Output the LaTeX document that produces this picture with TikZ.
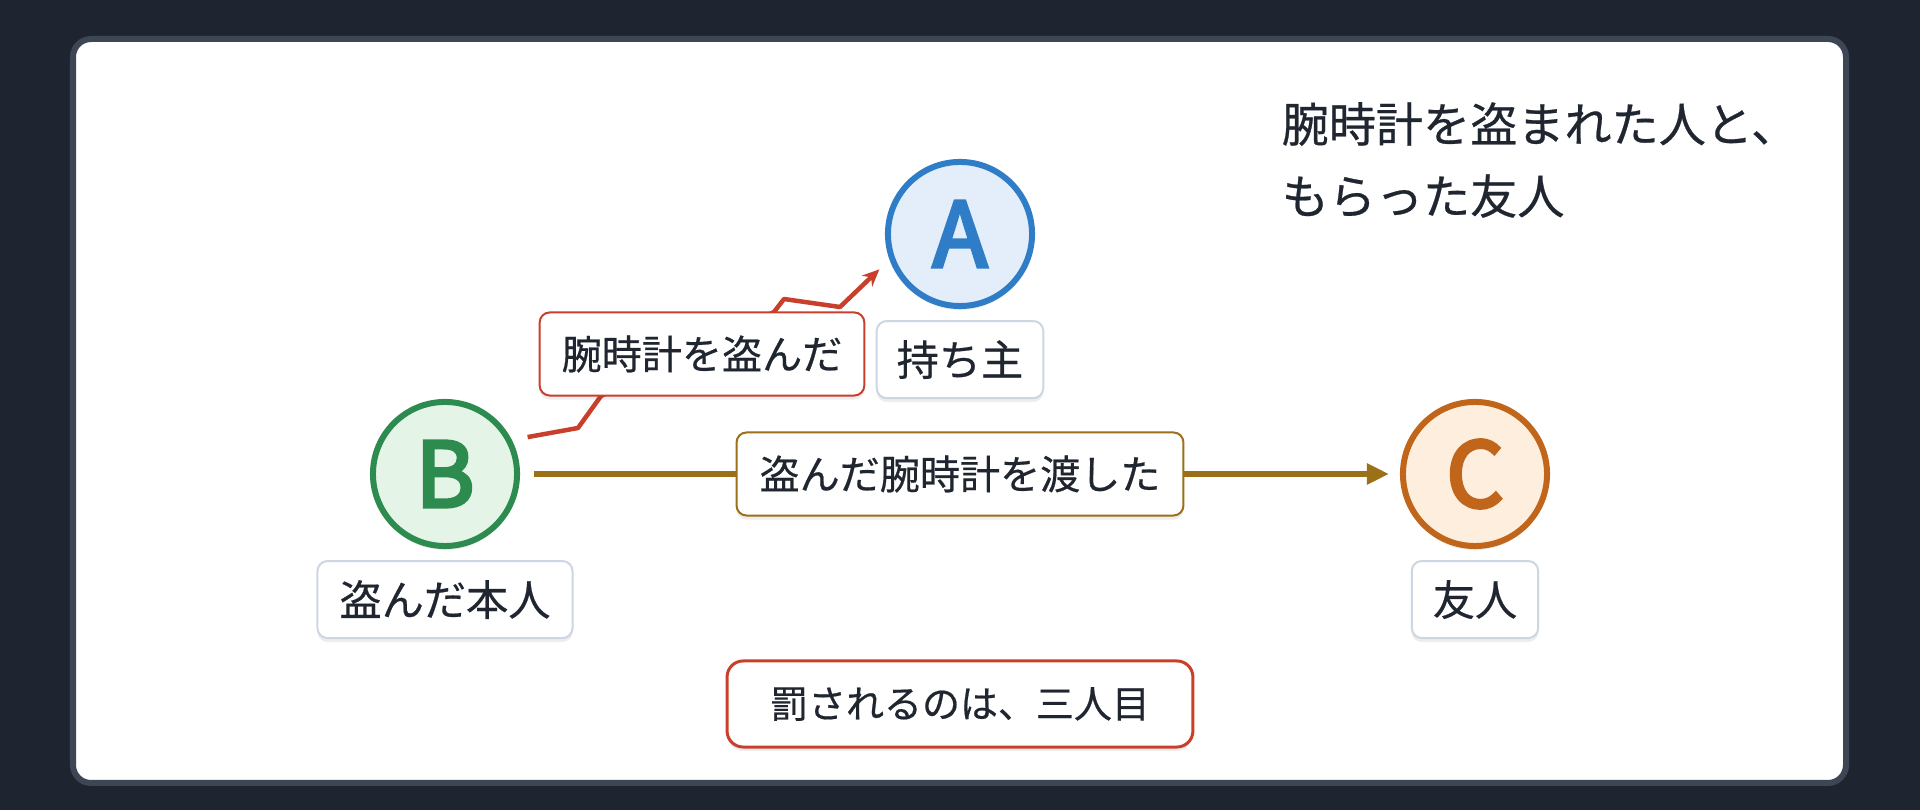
\documentclass[tikz,border=0pt]{standalone}
\usepackage{fontspec}
\setmainfont{Noto Sans CJK JP}[FakeBold=0.5]
\newfontfamily\letterfont{Noto Sans CJK JP}[FakeBold=4]
\usepackage{xcolor}
\usepackage{tikz}
\usetikzlibrary{positioning, arrows.meta, shadows}
\definecolor{pageDark}{RGB}{30, 37, 48}
\definecolor{cardEdge}{RGB}{61, 70, 85}
\definecolor{textDark}{RGB}{31, 38, 48}
\definecolor{ownerBlue}{RGB}{47, 125, 198}
\definecolor{ownerFill}{RGB}{228, 238, 250}
\definecolor{thiefGreen}{RGB}{46, 139, 79}
\definecolor{thiefFill}{RGB}{228, 245, 232}
\definecolor{friendOrange}{RGB}{192, 101, 26}
\definecolor{friendFill}{RGB}{253, 238, 222}
\definecolor{stealRed}{RGB}{200, 64, 44}
\definecolor{giveBrown}{RGB}{156, 112, 24}
\definecolor{boxGray}{RGB}{205, 214, 226}
\tikzset{
    softshadow/.style={
        drop shadow={shadow xshift=0cm, shadow yshift=-0.04cm, opacity=0.07, fill=black}
    },
    personnode/.style={
        circle, draw, line width=0.06cm, minimum size=1.44cm, inner sep=0pt,
        font=\letterfont\fontsize{25.5}{26}\selectfont, softshadow
    },
    rolenode/.style={
        draw=boxGray, line width=0.02cm, fill=white, rounded corners=0.1cm,
        inner xsep=0.2cm, inner ysep=0pt, minimum height=0.77cm,
        text=textDark, font=\fontsize{12}{14}\selectfont, softshadow
    },
    actlabel/.style={
        rolenode, minimum height=0.83cm, inner xsep=0.22cm,
        font=\fontsize{11.4}{13}\selectfont
    },
    stealptr/.style={
        -{Stealth[length=0.17cm, width=0.15cm]}, line width=0.045cm, stealRed, line join=round
    },
    giveptr/.style={
        -{Triangle[length=0.22cm, width=0.2cm]}, line width=0.065cm, giveBrown
    }
}

\begin{document}
\begin{tikzpicture}[x=0.01cm, y=-0.01cm]

    % --- NỀN VÀ THẺ ---
    \useasboundingbox (0,0) rectangle (1920,810);
    \fill[pageDark] (0,0) rectangle (1920,810);
    \draw[cardEdge, line width=0.06cm, fill=white, rounded corners=0.18cm] (73,39) rectangle (1846,783);

    % --- BA NGƯỜI ---
    \node[personnode, draw=ownerBlue, fill=ownerFill, text=ownerBlue] (nA) at (960,234) {A};
    \node[personnode, draw=thiefGreen, fill=thiefFill, text=thiefGreen] (nB) at (445,474) {B};
    \node[personnode, draw=friendOrange, fill=friendFill, text=friendOrange] (nC) at (1475,474) {C};

    \node[rolenode, below=0.11cm of nA] (lblOwner) {持ち主};
    \node[rolenode, inner xsep=0.22cm, below=0.11cm of nB] (lblThief) {盗んだ本人};
    \node[rolenode, inner xsep=0.21cm, below=0.11cm of nC] (lblFriend) {友人};

    % --- MŨI TÊN ---
    \draw[stealptr, shorten <=0.16cm, shorten >=0.14cm]
        (nB.27) -- (578,428) -- (601,396) -- (774,312) -- (784,299) -- (840,307) -- (nA.200);
    \node[actlabel, draw=stealRed] (lblSteal) at (702,354) {腕時計を盗んだ};

    \draw[giveptr, shorten <=0.14cm, shorten >=0.11cm] (nB) -- (nC);
    \node[actlabel, draw=giveBrown, inner xsep=0.23cm] (lblGive) at (960,474) {盗んだ腕時計を渡した};

    % --- TIÊU ĐỀ VÀ KẾT LUẬN ---
    \node[anchor=west, align=left, inner sep=0pt, text=textDark, font=\fontsize{13.4}{20.5}\selectfont]
        (title) at (1281,160) {腕時計を盗まれた人と、\\もらった友人};

    \node[actlabel, draw=stealRed, line width=0.03cm, rounded corners=0.16cm, minimum height=0.86cm,
        inner xsep=0.43cm, font=\fontsize{10.8}{13}\selectfont] (lblPunish) at (960,704) {罰されるのは、三人目};

\end{tikzpicture}
\end{document}
